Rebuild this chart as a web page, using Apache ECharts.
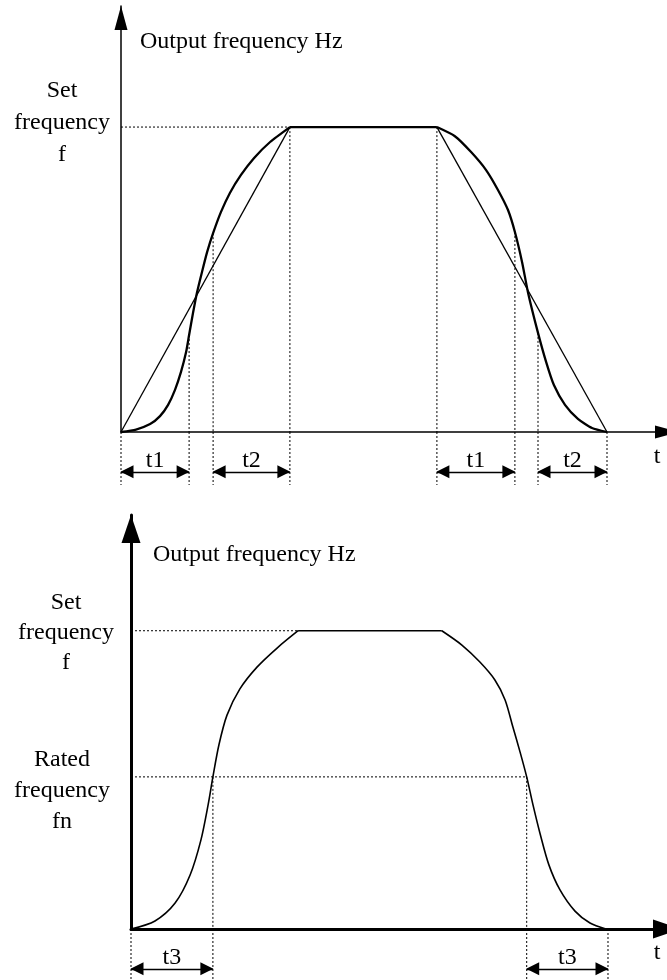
<!DOCTYPE html>
<html>
<head>
<meta charset="utf-8">
<title>Output frequency curves</title>
<script src="https://cdn.jsdelivr.net/npm/echarts@6/dist/echarts.min.js"></script>
<style>
html, body { margin: 0; padding: 0; background: #fff; }
#chart { width: 667px; height: 980px; }
</style>
</head>
<body>
<div id="chart"></div>
<script>
// 上图：S曲线加减速（时间单位任意，频率以设定频率 f = 100 计）
var topRise = [[0, 0], [5, 0.8], [9.7, 2.6], [13, 5.2], [15.7, 8.9], [18, 13.8], [20, 19.7], [21.7, 26.2],
	[22.7, 31.8], [24, 39], [25.3, 45.6], [27, 52.5], [28.7, 59], [30.7, 65.2], [33.3, 72.1], [36.3, 78.4],
	[40, 84.3], [44.3, 89.8], [49.7, 95.1], [56.3, 100]];
var topFall = [[105.3, 100], [111.3, 97], [116.7, 91.8], [121.7, 85.9], [125.7, 79.3], [129, 72.8],
	[131.3, 65.6], [133.7, 55.7], [135.7, 45.6], [139, 32.5], [141.7, 23], [144.3, 15.4], [148, 8.9],
	[152.3, 4.3], [157, 1.3], [162, 0]];
var topPlateau = [[56.3, 100], [105.3, 100]];
var topLinearRise = [[0, 0], [56.3, 100]];
var topLinearFall = [[105.3, 100], [162, 0]];
var topSetLevel = 100;
var topGuideX = [22.7, 30.7, 56.3, 105.3, 131.3, 139, 162];
var topGuideY = [31.8, 65.2, 100, 100, 65.6, 32.5, 0];
var topSpans = [[0, 22.7, 't1'], [30.7, 56.3, 't2'], [105.3, 131.3, 't1'], [139, 162, 't2']];

// 下图：额定频率以上的曲线加减速
var botRise = [[0, 0], [8, 2.7], [14.7, 8.7], [19.7, 18.1], [23.3, 29.8], [25.7, 41.6], [27.3, 51],
	[29.3, 61.7], [32, 71.7], [36.3, 80.5], [42, 87.8], [48.7, 94.2], [55.7, 100]];
var botFall = [[103.6, 100], [110.3, 95.2], [116.3, 89.5], [121.3, 83.5], [124.7, 76.8], [127.3, 67.7],
	[129.7, 59.3], [131.9, 51], [134, 41.6], [136.3, 32.2], [139.3, 21.5], [143, 13.1], [148, 6],
	[153, 2], [158.3, 0]];
var botPlateau = [[55.7, 100], [103.6, 100]];
var botSetLevel = 100;
var botRatedLevel = 51;
var botGuideX = [27.3, 131.9, 159];
var botGuideY = [51, 51, 0];
var botSpans = [[0, 27.3, 't3'], [131.9, 159, 't3']];

var TOP_TMAX = 182;
var BOT_TMAX = 178.67;
var FONT = 'Liberation Serif';
var BLACK = '#000';

function curve(data, xi, width, smooth) {
	return {
		type: 'line', xAxisIndex: xi, yAxisIndex: xi, data: data,
		symbol: 'none', smooth: smooth, clip: false, silent: true,
		lineStyle: { color: BLACK, width: width }
	};
}
function dashed(data, xi) {
	return {
		type: 'line', xAxisIndex: xi, yAxisIndex: xi, data: data,
		symbol: 'none', clip: false, silent: true,
		lineStyle: { color: BLACK, width: 1, type: [2, 2] }
	};
}
//时间段标注（双向箭头）
function spanLines(xs, spans, xi, y) {
	var list = [];
	for (var i = 0; i < xs.length; i++) {
		list.push(dashed([[xs[i], 0], [xs[i], 1]], xi));
	}
	list[0].markLine = {
		silent: true, animation: false,
		symbol: ['triangle', 'triangle'],
		symbolSize: 13,
		symbolOffset: [[0, 6], [0, 6]],
		lineStyle: { color: BLACK, width: 1.3, type: 'solid' },
		label: { show: true, position: 'middle', formatter: '{b}', color: BLACK,
			fontFamily: FONT, fontSize: 24, distance: -1 },
		data: spans.map(function (s) {
			return [{ coord: [s[0], y], name: s[2] }, { coord: [s[1], y] }];
		})
	};
	return list;
}
function axisLine(grid, max, width, size, offset) {
	return {
		gridIndex: grid, type: 'value', min: 0, max: max,
		axisLine: { onZero: false, symbol: ['none', 'triangle'], symbolSize: size, symbolOffset: [0, offset],
			lineStyle: { color: BLACK, width: width } },
		axisTick: { show: false }, axisLabel: { show: false }, splitLine: { show: false }
	};
}
function hidden(grid, max, inverse) {
	return { gridIndex: grid, type: 'value', min: 0, max: max, inverse: inverse, show: false };
}
function text(str, x, y, align, lh) {
	return {
		type: 'text', silent: true,
		style: { text: str, x: x, y: y, fill: BLACK, fontFamily: FONT, fontSize: 24,
			align: align, textAlign: align, verticalAlign: 'middle', textVerticalAlign: 'middle',
			lineHeight: lh || 28 }
	};
}

var series = [];
series.push(curve(topRise, 0, 2.3, 0.2));
series.push(curve(topPlateau, 0, 2.3, false));
series.push(curve(topFall, 0, 2.3, 0.2));
series.push(curve(topLinearRise, 0, 1.3, false));
series.push(curve(topLinearFall, 0, 1.3, false));
series.push(dashed([[0, topSetLevel], [topPlateau[0][0], topSetLevel]], 0));
for (var i = 0; i < topGuideX.length; i++) {
	series.push(dashed([[topGuideX[i], topGuideY[i]], [topGuideX[i], 0]], 0));
}
series = series.concat(spanLines([0].concat(topGuideX), topSpans, 1, 0.75));

series.push(curve(botRise, 2, 1.6, 0.3));
series.push(curve(botPlateau, 2, 1.6, false));
series.push(curve(botFall, 2, 1.6, 0.3));
series.push(dashed([[0, botSetLevel], [botPlateau[0][0], botSetLevel]], 2));
series.push(dashed([[0, botRatedLevel], [botGuideX[1], botRatedLevel]], 2));
for (var j = 0; j < botGuideX.length; j++) {
	series.push(dashed([[botGuideX[j], botGuideY[j]], [botGuideX[j], 0]], 2));
}
series = series.concat(spanLines([0].concat(botGuideX), botSpans, 3, 0.78));

var chart = echarts.init(document.getElementById('chart'), null, { renderer: 'canvas' });
chart.setOption({
	backgroundColor: '#fff',
	animation: false,
	grid: [
		{ left: 121, right: 0, top: 6, height: 426 },
		{ left: 121, right: 0, top: 432, height: 53 },
		{ left: 131, right: 0, top: 515, height: 414 },
		{ left: 131, right: 0, top: 929, height: 51 }
	],
	xAxis: [
		axisLine(0, TOP_TMAX, 1.5, [13, 24], 0),
		hidden(1, TOP_TMAX, false),
		axisLine(2, BOT_TMAX, 3, [19, 28], 0),
		hidden(3, BOT_TMAX, false)
	],
	yAxis: [
		axisLine(0, 139.7, 1.5, [13, 24], -12),
		hidden(1, 1, true),
		axisLine(2, 138.8, 3, [19, 28], -14),
		hidden(3, 1, true)
	],
	graphic: [
		text('Output frequency Hz', 140, 42, 'left'),
		text('Set\nfrequency\nf', 62, 123, 'center', 32),
		text('t', 657, 457, 'center'),
		text('Output frequency Hz', 153, 555, 'left'),
		text('Set\nfrequency\nf', 66, 633, 'center', 30),
		text('Rated\nfrequency\nfn', 62, 791, 'center', 31),
		text('t', 657, 953, 'center')
	],
	series: series
});
</script>
</body>
</html>
